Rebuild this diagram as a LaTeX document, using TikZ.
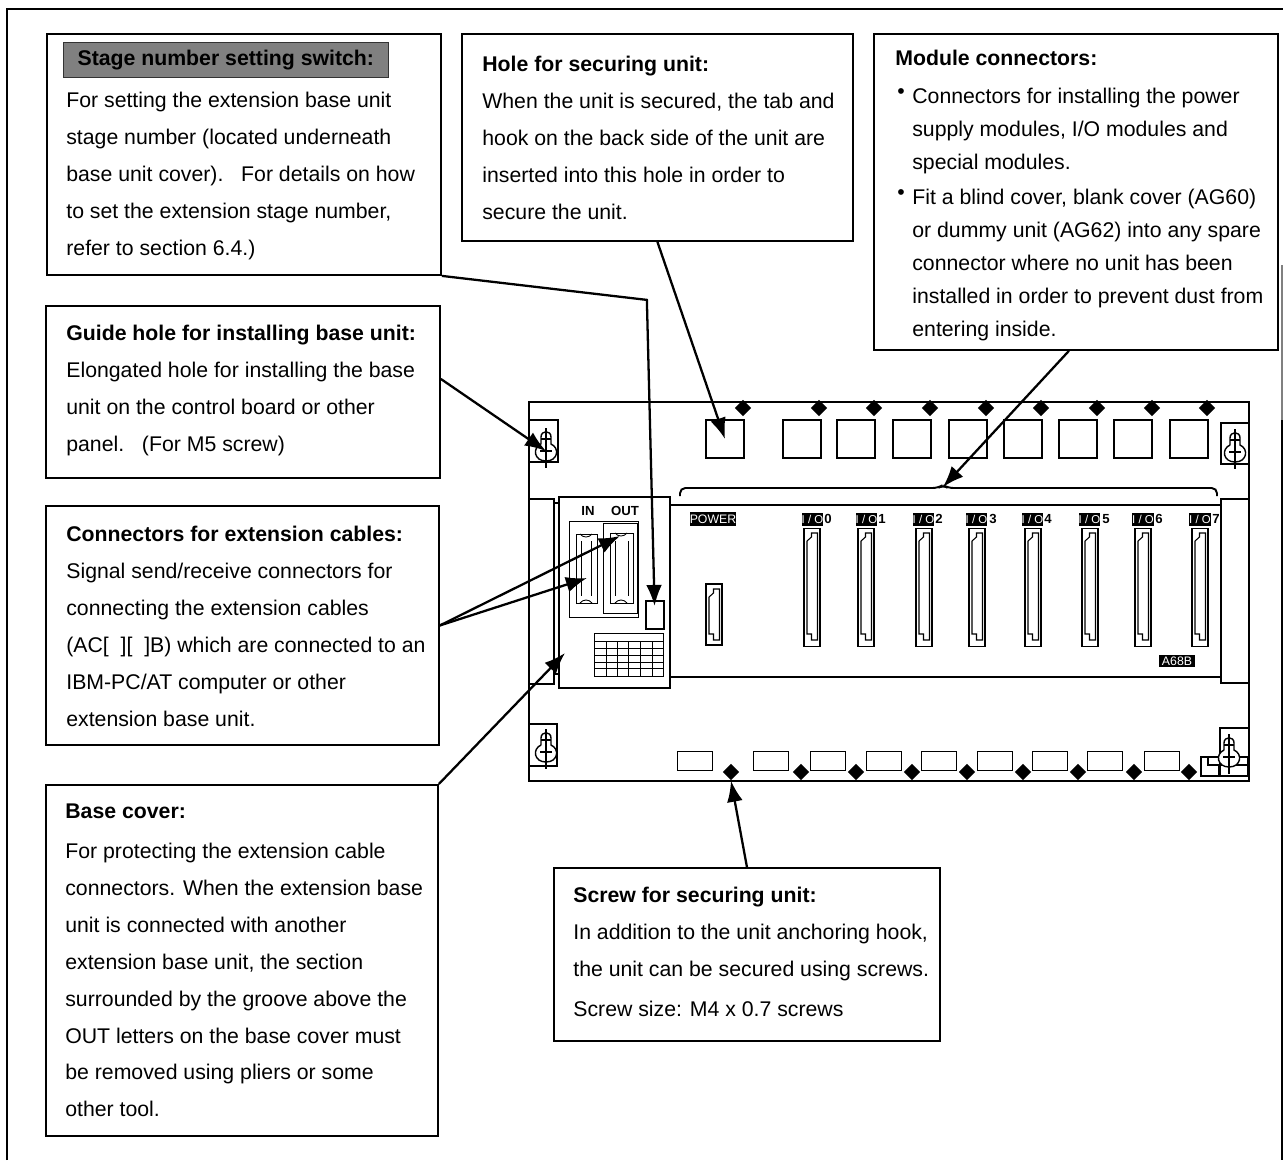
\documentclass[tikz,border=0pt]{standalone}
\usepackage{fontspec}
\setmainfont{Liberation Sans}
\usetikzlibrary{arrows.meta, shapes.geometric, positioning}

\begin{document}
\begin{tikzpicture}[
    x=0.02cm, y=-0.02cm,
    callout/.style={draw, line width=1.1pt, inner sep=0pt, anchor=north west},
    boxtext/.style={anchor=north west, inner sep=0pt, align=left, font=\fontsize{12.1}{21}\selectfont},
    bullettext/.style={boxtext, font=\fontsize{12.1}{18.7}\selectfont},
    leader/.style={-{Latex[length=12pt, width=9pt]}, line width=1.3pt},
    unit/.style={draw, line width=0.9pt, inner sep=0pt},
    slot/.style={unit, minimum width=21.5pt, minimum height=21.5pt},
    lowslot/.style={unit, minimum width=20pt, minimum height=11pt},
    screw/.style={diamond, fill=black, inner sep=0pt, minimum size=9.5pt},
    tag/.style={fill=black, text=white, inner sep=0pt, font=\fontsize{6.5}{7}\selectfont},
    digit/.style={inner sep=0pt, font=\fontsize{7.5}{8}\selectfont\bfseries}
]
    \useasboundingbox (0,0) rectangle (1283,1160);

    % Outer frame
    \draw[line width=1.2pt] (7,1160) -- (7,9) -- (1283,9);
    \draw[line width=0.6pt, gray] (1282,265) -- (1282,420);
    \draw[line width=1.2pt] (1282,420) -- (1282,1160);

    % Callout boxes
    \node[callout, minimum width=7.88cm, minimum height=4.82cm] (stage) at (46,33) {};
    \node[callout, minimum width=7.82cm, minimum height=4.14cm] (hole) at (461,33) {};
    \node[callout, minimum width=8.08cm, minimum height=6.32cm] (module) at (873,33) {};
    \node[callout, minimum width=7.88cm, minimum height=3.44cm] (guide) at (45,305) {};
    \node[callout, minimum width=7.86cm, minimum height=4.78cm] (extension) at (45,505) {};
    \node[callout, minimum width=7.84cm, minimum height=7.02cm] (cover) at (45,784) {};
    \node[callout, minimum width=7.72cm, minimum height=3.46cm] (fixing) at (553,867) {};

    % Callout texts
    \node[fill=black!50, draw=black!80, text=black, inner sep=0pt, minimum width=6.5cm, minimum height=0.7cm, anchor=north west, font=\fontsize{12.1}{14}\selectfont\bfseries] (stagehead) at (63,42) {Stage number setting switch:};
    \node[boxtext] (stagetext) at (66,92) {For setting the extension base unit\\stage number (located underneath\\base unit cover).\ \ \ For details on how\\to set the extension stage number,\\refer to section 6.4.)};
    \node[boxtext] (holetext) at (482,56) {\textbf{Hole for securing unit:}\\When the unit is secured, the tab and\\hook on the back side of the unit are\\inserted into this hole in order to\\secure the unit.};
    \node[boxtext] (moduletext) at (895,50) {\textbf{Module connectors:}};
    \node[bullettext] (bulletone) at (897,88) {•};
    \node[bullettext] (bulletonetext) at (912,88) {Connectors for installing the power\\supply modules, I/O modules and\\special modules.};
    \node[bullettext] (bullettwo) at (897,189) {•};
    \node[bullettext] (bullettwotext) at (912,189) {Fit a blind cover, blank cover (AG60)\\or dummy unit (AG62) into any spare\\connector where no unit has been\\installed in order to prevent dust from\\entering inside.};
    \node[boxtext] (guidetext) at (66,325) {\textbf{Guide hole for installing base unit:}\\Elongated hole for installing the base\\unit on the control board or other\\panel.\ \ \ (For M5 screw)};
    \node[boxtext] (extensiontext) at (66,526) {\textbf{Connectors for extension cables:}\\Signal send/receive connectors for\\connecting the extension cables\\(AC[\ \ ][\ \ ]B) which are connected to an\\IBM-PC/AT computer or other\\extension base unit.};
    \node[boxtext] (covertext) at (65,804) {\textbf{Base cover:}\\[1.5pt]For protecting the extension cable\\connectors. When the extension base\\unit is connected with another\\extension base unit, the section\\surrounded by the groove above the\\OUT letters on the base cover must\\be removed using pliers or some\\other tool.};
    \node[boxtext] (fixingtext) at (573,887) {\textbf{Screw for securing unit:}\\In addition to the unit anchoring hook,\\the unit can be secured using screws.\\[2pt]Screw size: M4 x 0.7 screws};

    % Base unit
    \node[draw, line width=1.1pt, anchor=north west, minimum width=14.4cm, minimum height=7.58cm] (base) at (528,401) {};
    \node[unit, anchor=north west, minimum width=0.5cm, minimum height=3.7cm] (railleft) at (528,498) {};
    \node[unit, anchor=north west, minimum width=0.1cm, minimum height=3.42cm] (railinner) at (553,502) {};
    \node[unit, anchor=north west, minimum width=0.56cm, minimum height=3.68cm] (railright) at (1220,498) {};
    \draw[line width=0.9pt] (669,505) -- (1220,505);
    \draw[line width=0.9pt] (669,677) -- (1220,677);

    % Corner pieces
    \node[unit, anchor=north west, minimum width=0.58cm, minimum height=0.84cm] (cornerA) at (528,419) {};
    \node[unit, anchor=north west, minimum width=0.56cm, minimum height=0.84cm] (cornerB) at (528,723) {};
    \node[unit, anchor=north west, minimum width=0.56cm, minimum height=0.82cm] (cornerC) at (1220,422) {};
    \node[unit, anchor=north west, minimum width=0.58cm, minimum height=0.96cm] (cornerD) at (1219,727) {};
    \node[unit, anchor=north west, minimum width=0.94cm, minimum height=0.38cm] (foot) at (1200,756) {};
    \draw[line width=0.7pt] (1208,756) -- (1208,765) -- (1247,765) (1219,765) -- (1219,775);

    % Keyholes
    \foreach \name/\kx/\ky in {keyA/546/451, keyB/546/752, keyC/1235/452, keyD/1229/757} {
        \coordinate (\name) at (\kx,\ky);
        \begin{scope}[shift={(\name)}]
            \draw[line width=0.8pt, fill=white] (-5,-7) -- (-5,-14) .. controls (-5,-21) and (5,-21) .. (5,-14) -- (5,-7) .. controls (14,-3) and (12,10) .. (0,10) .. controls (-12,10) and (-14,-3) .. (-5,-7);
            \draw[line width=0.7pt] (0,-23) -- (0,17) (-6,0) -- (6,0) (-5,-12) -- (5,-12);
        \end{scope}
    }

    % Base cover with IN and OUT connectors
    \node[draw, fill=white, line width=1.1pt, anchor=north west, minimum width=2.22cm, minimum height=3.82cm] (basecover) at (558,496) {};
    \node[digit] (intag) at (588,511) {IN};
    \node[digit] (outtag) at (625,511) {OUT};
    \node[draw, line width=0.7pt, inner sep=0pt, anchor=north west, minimum width=1.38cm, minimum height=1.92cm] (conframe) at (569,521) {};
    \node[draw, line width=0.6pt, inner sep=0pt, anchor=north west, minimum width=0.68cm, minimum height=1.8cm] (outframe) at (603,523) {};
    \node[draw, line width=0.7pt, inner sep=0pt, anchor=north west, minimum width=0.42cm, minimum height=1.38cm] (inport) at (576,534) {};
    \node[draw, line width=0.7pt, inner sep=0pt, anchor=north west, minimum width=0.46cm, minimum height=1.4cm] (outport) at (610,533) {};
    \foreach \lx in {581,591,615,628} {
        \draw[line width=0.4pt] (\lx,541) -- (\lx,596);
    }
    \foreach \lx/\ly/\lz in {586/534/538, 586/603/599, 621/533/537, 621/603/599} {
        \draw[line width=0.5pt] (\lx-6,\ly) .. controls (\lx-3,\lz) and (\lx+3,\lz) .. (\lx+6,\ly);
    }
    \node[unit, anchor=north west, minimum width=0.36cm, minimum height=0.56cm] (switchbox) at (645,600) {};

    % Rating table
    \node[draw, line width=0.7pt, inner sep=0pt, anchor=north west, minimum width=1.38cm, minimum height=0.86cm] (rating) at (594,633) {};
    \foreach \ly in {641,648,655,662,668} {
        \draw[line width=0.5pt] (594,\ly) -- (663,\ly);
    }
    \foreach \lx in {606,617,628,640,652} {
        \draw[line width=0.5pt] (\lx,641) -- (\lx,676);
    }

    % Brace over module connectors
    \draw[line width=1.1pt, rounded corners=3pt] (680,496) -- (680,488) -- (938,488) -- (943,485) -- (948,488) -- (1217,488) -- (1217,496);
    \coordinate (bracetip) at (943,487);

    % Top slots and screws
    \foreach \i/\sx in {1/725,2/802,3/856,4/912,5/968,6/1023,7/1078,8/1133,9/1189} {
        \node[slot] (top\i) at (\sx,439) {};
    }
    \foreach \i/\sx in {1/743,2/819,3/874,4/930,5/986,6/1041,7/1097,8/1152,9/1207} {
        \node[screw] (topscrew\i) at (\sx,408) {};
    }

    % Bottom slots and screws
    \foreach \i/\sx in {1/695,2/771,3/828,4/884,5/939,6/995,7/1050,8/1105,9/1162} {
        \node[lowslot] (low\i) at (\sx,761) {};
    }
    \foreach \i/\sx in {1/731,2/801,3/856,4/912,5/967,6/1023,7/1078,8/1134,9/1189} {
        \node[screw] (lowscrew\i) at (\sx,772) {};
    }

    % Module connectors
    \foreach \i/\sx in {0/812,1/866,2/924,3/977,4/1033,5/1090,6/1143,7/1200} {
        \node[unit, minimum width=0.32cm, minimum height=2.36cm] (port\i) at (\sx,587.5) {};
        \draw[line width=0.6pt] (\sx-0.5,533) -- (\sx+5.5,533) -- (\sx+5.5,640) -- (\sx-0.5,640) -- (\sx-0.5,634) -- (\sx-5,634) -- (\sx-5,541) -- (\sx-0.5,537) -- cycle;
    }
    \node[unit, minimum width=0.32cm, minimum height=1.22cm] (portpower) at (714,614.5) {};
    \draw[line width=0.6pt] (713.5,589) -- (719.5,589) -- (719.5,640) -- (713.5,640) -- (713.5,634) -- (709,634) -- (709,597) -- (713.5,593) -- cycle;

    % Module labels
    \foreach \i/\sx/\dx in {0/812.5/828,1/866.5/882,2/923.5/939,3/976.5/993,4/1032.5/1048,5/1089.5/1106,6/1143/1159,7/1200/1216} {
        \node[tag, minimum width=0.42cm, minimum height=0.26cm] (iotag\i) at (\sx,519) {I / O};
        \node[digit] (iodigit\i) at (\dx,519) {\i};
    }
    \node[tag, minimum width=0.92cm, minimum height=0.28cm, font=\fontsize{7}{8}\selectfont] (powertag) at (713,519) {POWER};
    \node[tag, minimum width=0.72cm, minimum height=0.24cm, font=\fontsize{7}{8}\selectfont] (modeltag) at (1177,661) {A68B};

    % Leader lines
    \coordinate (outtip) at (620,536);
    \coordinate (intip) at (587,578);
    \coordinate (covertip) at (565,653);
    \draw[leader, shorten >=5pt] (stage.south east) -- ++(205,24) -- (switchbox.center);
    \draw[leader] (hole.south) -- (top1.center);
    \draw[leader] ([xshift=-4pt]module.south) -- (bracetip);
    \draw[leader] ([yshift=7.4pt]guide.east) -- (keyA);
    \draw[leader] (extension.east) -- (outtip);
    \draw[leader] (extension.east) -- (intip);
    \draw[leader] (cover.north east) -- (covertip);
    \draw[leader] (fixing.north) -- (lowscrew1.south);
\end{tikzpicture}
\end{document}
